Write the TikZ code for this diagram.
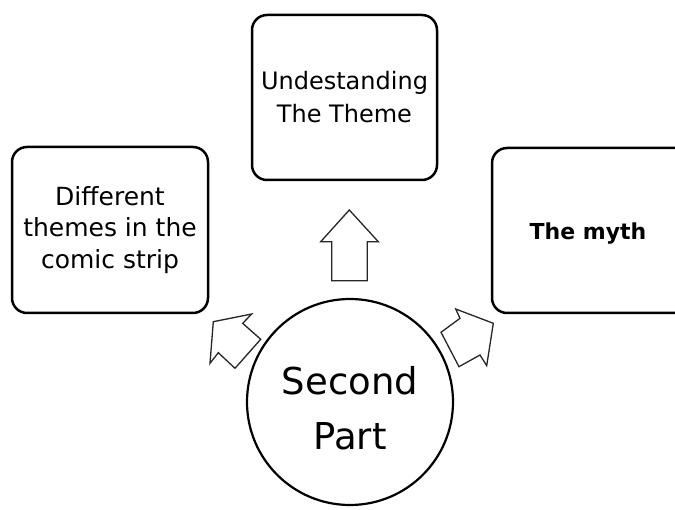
\documentclass[tikz,border=0pt]{standalone}
\usepackage{fontspec}
\setmainfont{DejaVu Sans}
\begin{document}
\begin{tikzpicture}[x=1pt,y=-1pt,
  box/.style={draw=black,line width=2.5pt,rounded corners=15pt,fill=white,inner sep=0pt},
  blockarrow/.style={draw=black!85,line width=1.3pt,fill=white,line join=miter},
  boxtext/.style={align=center,font=\fontsize{25}{31.5}\selectfont,inner sep=0pt},
  bigtext/.style={align=center,font=\fontsize{37}{55}\selectfont,inner sep=0pt}]
\useasboundingbox (0,0) rectangle (675,510);
\clip (0,0) rectangle (675,510);
% boxes
\node[box,minimum width=196pt,minimum height=166pt] (left) at (110,230) {};
\node[boxtext] (lefttext) at (110,230) {Different\\themes in the\\comic strip};
\node[box,minimum width=185pt,minimum height=165pt] (top) at (344.5,97.5) {};
\node[boxtext,font=\fontsize{24}{33}\selectfont] (toptext) at (344.5,97.5) {Undestanding\\The Theme};
\node[box,minimum width=208pt,minimum height=165pt] (right) at (596,230.5) {};
\node[boxtext,font=\fontsize{22}{30}\selectfont\bfseries,anchor=base] (righttext) at (588,240) {The myth};
% circle
\node[draw=black,line width=2.2pt,circle,minimum size=206pt,inner sep=0pt] (center) at (350,402) {};
\node[bigtext] (centertext) at (350,408.5) {Second\\Part};
% block arrows
\draw[blockarrow] (349.3,210) -- (378.3,241.7) -- (367.3,241.7) -- (367.3,280.7)
  -- (331.7,280.7) -- (331.7,241.7) -- (320.7,241.7) -- cycle;
\draw[blockarrow] (251.7,314) -- (213.3,321.7) -- (210,363.3) -- (218.3,352.7)
  -- (235,368.3) -- (260.7,339.3) -- (242.7,323.3) -- cycle;
\draw[blockarrow] (455.7,309) -- (460,318.3) -- (441,332.3) -- (459,366.7)
  -- (480,355) -- (486.7,365.7) -- (493.3,323.3) -- cycle;
\end{tikzpicture}
\end{document}
